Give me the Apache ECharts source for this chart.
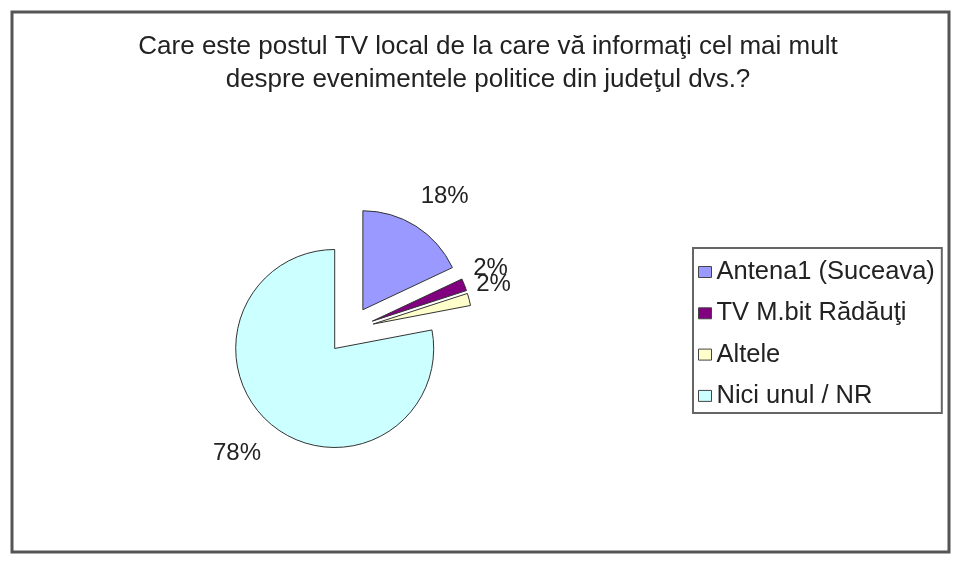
<!DOCTYPE html>
<html>
<head>
<meta charset="utf-8">
<script src="https://cdn.jsdelivr.net/npm/echarts@6/dist/echarts.min.js"></script>
<style>
html,body{margin:0;padding:0;background:#fff;}
#chart{width:960px;height:561px;}
</style>
</head>
<body>
<div id="chart"></div>
<script>
var titleText = 'Care este postul TV local de la care vă informaţi cel mai mult\ndespre evenimentele politice din judeţul dvs.?';
var categories = ['Antena1 (Suceava)', 'TV M.bit Rădăuţi', 'Altele', 'Nici unul / NR'];
var values = [18, 2, 2, 78];

var colors = ['#9999FF', '#800080', '#FFFFCC', '#CCFFFF'];
var labelLen = [35, 45, 60, 37];
var labelLen2 = [-14, -33, -51, -13];

var FONT = '"Liberation Sans", Arial, sans-serif';
var chart = echarts.init(document.getElementById('chart'));

var data = categories.map(function (c, i) {
  return {
    name: c,
    value: values[i],
    selected: true,
    itemStyle: { color: colors[i] },
    select: { itemStyle: { color: colors[i] } },
    labelLine: { show: false, length: labelLen[i], length2: labelLen2[i] }
  };
});

chart.setOption({
  animation: false,
  backgroundColor: '#fff',
  textStyle: { fontFamily: FONT },
  graphic: [{
    type: 'rect', silent: true,
    shape: { x: 12, y: 12, width: 937, height: 540 },
    style: { fill: 'none', stroke: '#555', lineWidth: 3 }
  }],
  title: {
    text: titleText,
    left: 488,
    top: 30,
    textAlign: 'center',
    padding: 0,
    textStyle: { fontFamily: FONT, fontSize: 26, fontWeight: 'normal', color: '#222', lineHeight: 33 }
  },
  legend: {
    orient: 'vertical',
    left: 693,
    top: 248,
    data: categories,
    icon: 'rect',
    itemWidth: 13,
    itemHeight: 11,
    itemGap: 15.3,
    padding: [11, 7, 4, 5],
    borderColor: '#666',
    borderWidth: 2,
    itemStyle: { borderColor: '#444', borderWidth: 1 },
    textStyle: { fontFamily: FONT, fontSize: 25.5, color: '#222', lineHeight: 24, padding: [0, 0, 0, 0] },
    selectedMode: false
  },
  series: [{
    type: 'pie',
    center: [350, 330],
    radius: 99,
    startAngle: 90,
    clockwise: true,
    selectedMode: 'multiple',
    selectedOffset: 24,
    avoidLabelOverlap: false,
    labelLayout: { hideOverlap: false },
    legendHoverLink: false,
    itemStyle: { borderColor: '#333', borderWidth: 1 },
    emphasis: { disabled: true },
    label: {
      show: true,
      position: 'outside',
      distanceToLabelLine: 0,
      formatter: function (p) { return p.value + '%'; },
      fontFamily: FONT,
      fontSize: 24,
      color: '#222'
    },
    labelLine: { show: false },
    data: data
  }]
});
</script>
</body>
</html>
